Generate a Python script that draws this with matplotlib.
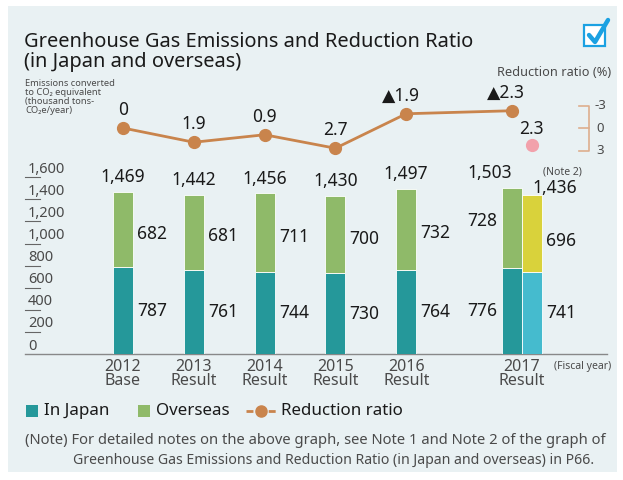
import matplotlib
matplotlib.use("Agg")
import matplotlib.pyplot as plt
from matplotlib.patches import Rectangle
from matplotlib.lines import Line2D

plt.rcParams['font.family'] = ['Noto Sans', 'DejaVu Sans']

# ---------------- data ----------------
categories = ['2012\nBase', '2013\nResult', '2014\nResult', '2015\nResult', '2016\nResult', '2017\nResult']
japan = [787, 761, 744, 730, 764, 776]
overseas = [682, 681, 711, 700, 732, 728]
totals = ['1,469', '1,442', '1,456', '1,430', '1,497', '1,503']
note2_japan = 741
note2_overseas = 696
note2_total = '1,436'
ratio = [0, 1.9, 0.9, 2.7, -1.9, -2.3]
ratio_labels = ['0', '1.9', '0.9', '2.7', '▲1.9', '▲2.3']
note2_ratio = 2.3
note2_ratio_label = '2.3'
yticks = [0, 200, 400, 600, 800, 1000, 1200, 1400, 1600]
ytick_labels = ['0', '200', '400', '600', '800', '1,000', '1,200', '1,400', '1,600']
rticks = [-3, 0, 3]

# ---------------- style ----------------
W, H = 623, 480
C_JP = '#25989A'
C_OV = '#8FBA69'
C_JP2 = '#45BBCE'
C_OV2 = '#D9D23B'
C_LINE = '#C9844C'
C_PINK = '#F2A1AB'
BG = '#E9F1F3'
TXT = '#1A1A1A'
GRAY = '#4A4A4A'

fig = plt.figure(figsize=(W / 100, H / 100), dpi=100)
fig.patch.set_facecolor('white')

def fr(x0, y0, x1, y1):
    # pixel box (top-left origin) -> figure fraction rect
    return [x0 / W, 1 - y1 / H, (x1 - x0) / W, (y1 - y0) / H]

# overlay axes in pixel coordinates
ax0 = fig.add_axes([0, 0, 1, 1], zorder=0)
ax0.set_xlim(0, W)
ax0.set_ylim(H, 0)
ax0.axis('off')
ax0.add_patch(Rectangle((8, 6), 609, 466, facecolor=BG, edgecolor='none', zorder=-5))

# x mapping
X0, PPU = 123, 70.8
pos = [0, 1, 2, 3, 4, 5.63]
bw = 20 / PPU
ax_left, ax_right = 38, 583
xlim = ((ax_left - X0) / PPU, (ax_right - X0) / PPU)

# ---------------- bar axes ----------------
BASE, SCALE = 354, 0.1105
top_px = 165
ax = fig.add_axes(fr(ax_left, top_px, ax_right, BASE), zorder=1)
ax.set_facecolor('none')
ax.set_xlim(*xlim)
ax.set_ylim(0, (BASE - top_px) / SCALE)
ax.axis('off')

xs_main = pos[:5] + [pos[5] - bw / 2]
ax.bar(xs_main, japan, width=bw, color=C_JP, edgecolor='white', linewidth=0.6)
ax.bar(xs_main, overseas, bottom=japan, width=bw, color=C_OV, edgecolor='white', linewidth=0.6)
x2 = pos[5] + bw / 2
ax.bar([x2], [note2_japan], width=bw, color=C_JP2, edgecolor='white', linewidth=0.6)
ax.bar([x2], [note2_overseas], bottom=[note2_japan], width=bw, color=C_OV2, edgecolor='white', linewidth=0.6)

fs_val = 12.5
for i, x in enumerate(xs_main):
    tot = japan[i] + overseas[i]
    dx = -16 if i == 5 else 0
    ax.annotate(totals[i], (x, tot), xytext=(dx, 10.5), textcoords='offset points',
                ha='center', va='center', fontsize=fs_val, color=TXT)
    if i < 5:
        ax.annotate(str(overseas[i]), (x + bw / 2, japan[i] + overseas[i] / 2), xytext=(3, -3),
                    textcoords='offset points', ha='left', va='center', fontsize=fs_val, color=TXT)
        ax.annotate(str(japan[i]), (x + bw / 2, japan[i] / 2), xytext=(3, 0),
                    textcoords='offset points', ha='left', va='center', fontsize=fs_val, color=TXT)
    else:
        ax.annotate(str(overseas[i]), (x - bw / 2, japan[i] + overseas[i] / 2), xytext=(-3, 5),
                    textcoords='offset points', ha='right', va='center', fontsize=fs_val, color=TXT)
        ax.annotate(str(japan[i]), (x - bw / 2, japan[i] / 2), xytext=(-3, 0),
                    textcoords='offset points', ha='right', va='center', fontsize=fs_val, color=TXT)
tot2 = note2_japan + note2_overseas
ax.annotate(note2_total, (x2, tot2), xytext=(17, 5), textcoords='offset points',
            ha='center', va='center', fontsize=fs_val, color=TXT)
ax.annotate('(Note 2)', (x2, tot2), xytext=(22, 17), textcoords='offset points',
            ha='center', va='center', fontsize=7.5, color=GRAY)
ax.annotate(str(note2_overseas), (x2 + bw / 2, note2_japan + note2_overseas / 2), xytext=(3, -5),
            textcoords='offset points', ha='left', va='center', fontsize=fs_val, color=TXT)
ax.annotate(str(note2_japan), (x2 + bw / 2, note2_japan / 2), xytext=(3, 0),
            textcoords='offset points', ha='left', va='center', fontsize=fs_val, color=TXT)

# y ticks (drawn as underlined labels)
for v, lab in zip(yticks, ytick_labels):
    ypx = BASE - v * SCALE
    if v > 0:
        ax0.plot([25, 40], [ypx, ypx], color='#666666', lw=0.8)
    ax0.text(28, ypx - 0.5, lab, ha='left', va='bottom', fontsize=10.5, color=GRAY)

# baseline
ax0.plot([25, 607], [BASE, BASE], color='#888888', lw=1.0)

# category labels
for x, lab in zip(pos, categories):
    px = X0 + x * PPU
    ax0.text(px, 374, lab, ha='center', va='center', fontsize=11.5, color=GRAY, linespacing=0.9)
ax0.text(583, 367, '(Fiscal year)', ha='center', va='center', fontsize=7.5, color=GRAY)

# ---------------- line axes ----------------
lax = fig.add_axes(fr(ax_left, 98, ax_right, 158), zorder=2)
lax.set_facecolor('none')
lax.set_xlim(*xlim)
lax.set_ylim(4, -4)
lax.axis('off')
lx = pos[:5] + [pos[5] - bw / 2]
lax.plot(lx, ratio, color=C_LINE, lw=2, marker='o', markersize=8.5,
         markerfacecolor=C_LINE, markeredgecolor=C_LINE, clip_on=False)
for x, v, lab in zip(lx, ratio, ratio_labels):
    dx = -4 if lab.startswith('▲') else 0
    lax.annotate(lab, (x, v), xytext=(dx, 13), textcoords='offset points', ha='center',
                 va='center', fontsize=12.5, color=TXT)
lax.plot([x2], [note2_ratio], marker='o', markersize=8.5, color=C_PINK, clip_on=False)
lax.annotate(note2_ratio_label, (x2, note2_ratio), xytext=(0, 12), textcoords='offset points',
             ha='center', va='center', fontsize=12.5, color=TXT)

# right ratio scale
def rpx(v):
    return 128 + v * 7.5
ax0.plot([579, 589, 589, 579], [rpx(-3), rpx(-3), rpx(3), rpx(3)], color='#DDAE8E', lw=1.2)
ax0.plot([579, 589], [rpx(0), rpx(0)], color='#DDAE8E', lw=1.2)
for v in rticks:
    ax0.text(600, rpx(v), str(v), ha='center', va='center', fontsize=9.5, color=GRAY)
ax0.text(611, 73, 'Reduction ratio (%)', ha='right', va='center', fontsize=9.2, color=GRAY)

# y-axis title
ax0.text(25, 79, 'Emissions converted\nto CO₂ equivalent\n(thousand tons-\nCO₂e/year)',
         ha='left', va='top', fontsize=6.7, color=GRAY, linespacing=1.0)

# ---------------- title ----------------
ax0.text(24, 42, 'Greenhouse Gas Emissions and Reduction Ratio', ha='left', va='center',
         fontsize=14.4, color=TXT)
ax0.text(24, 62, '(in Japan and overseas)', ha='left', va='center', fontsize=14.4, color=TXT)

# checkbox icon
ax0.add_patch(Rectangle((584, 25), 21, 21, facecolor='white', edgecolor='#1BA1E2', lw=1.6, zorder=3))
ax0.plot([589, 595, 608], [35, 42, 20], color='#1BA1E2', lw=3.2, solid_capstyle='round',
         solid_joinstyle='round', zorder=4)

# ---------------- legend ----------------
ly = 411
ax0.add_patch(Rectangle((26, ly - 6), 12, 12, facecolor=C_JP, edgecolor='none'))
ax0.text(44, ly, 'In Japan', ha='left', va='center', fontsize=12.2, color=TXT)
ax0.add_patch(Rectangle((138, ly - 6), 12, 12, facecolor=C_OV, edgecolor='none'))
ax0.text(156, ly, 'Overseas', ha='left', va='center', fontsize=12.2, color=TXT)
ax0.add_line(Line2D([246, 276], [ly, ly], color=C_LINE, lw=2, linestyle=(0, (2.5, 1.5))))
ax0.plot([261], [ly], marker='o', markersize=8, color=C_LINE)
ax0.text(281, ly, 'Reduction ratio', ha='left', va='center', fontsize=12.2, color=TXT)

# ---------------- note ----------------
ax0.text(25, 441, '(Note) For detailed notes on the above graph, see Note 1 and Note 2 of the graph of',
         ha='left', va='center', fontsize=10.65, color=GRAY)
ax0.text(73, 461, 'Greenhouse Gas Emissions and Reduction Ratio (in Japan and overseas) in P66.',
         ha='left', va='center', fontsize=10.15, color=GRAY)

fig.savefig('out.png', dpi=100, facecolor='white')
